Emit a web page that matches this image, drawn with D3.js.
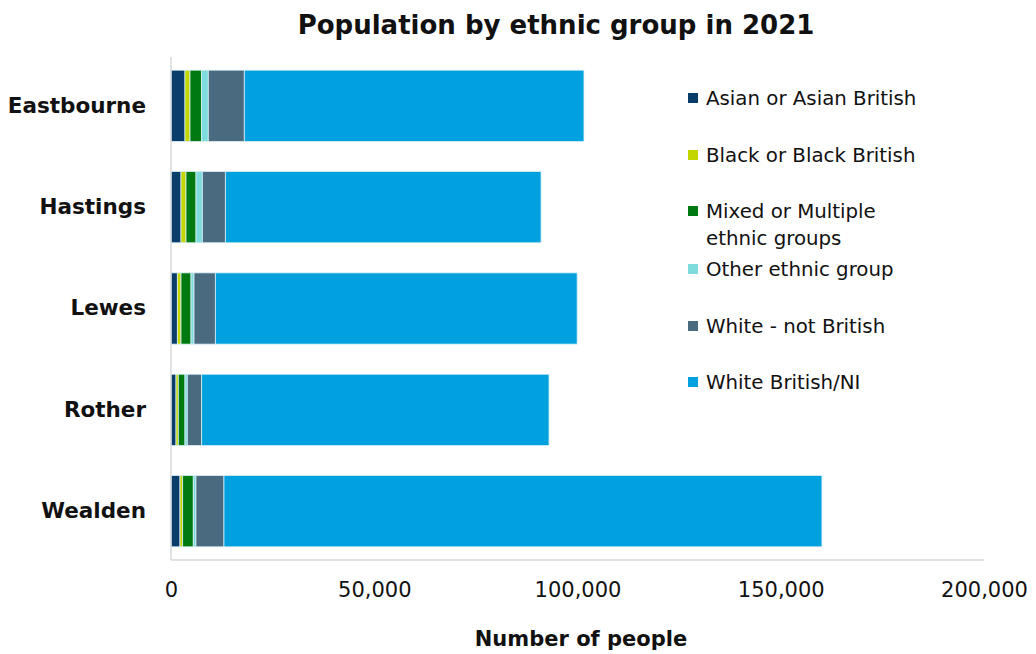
<html>
<head>
    <script src="https://cdn.jsdelivr.net/npm/d3@7"></script>
    <style>
        body {
            margin: 0;
            background: white;
            font-family: "DejaVu Sans", sans-serif;
        }
    </style>
</head>
<body>
    <svg id="EthnicChart"></svg>
<script>
    // districts and ethnic groups (2021 census)
    let districts = ["Eastbourne", "Hastings", "Lewes", "Rother", "Wealden"];
    let groups = ["Asian or Asian British", "Black or Black British", "Mixed or Multiple ethnic groups",
        "Other ethnic group", "White - not British", "White British/NI"];
    let asian = [3440, 2460, 1560, 1230, 2210];
    let black = [1230, 1230, 900, 570, 660];
    let mixed = [2870, 2460, 2460, 1640, 2610];
    let other = [1630, 1560, 740, 570, 660];
    let whiteNotBritish = [8860, 5660, 5250, 3540, 6890];
    let whiteBritish = [83560, 77660, 89000, 85440, 147100];
    let xTicks = [0, 50000, 100000, 150000, 200000];
    let colors = ["#0b3d6b", "#c4d600", "#007a10", "#7fdcdc", "#4a6a80", "#00a1de"];

    function getConfig() {
        let width = 1036;
        let height = 654;
        let margin = { top: 57, bottom: 94, left: 171, right: 52 };
        let bodyWidth = width - margin.left - margin.right;
        let bodyHeight = height - margin.top - margin.bottom;
        let container = d3.select("#EthnicChart")
            .attr("width", width)
            .attr("height", height);
        return { width, height, margin, bodyWidth, bodyHeight, container };
    }

    function getScales(config) {
        let xScale = d3.scaleLinear()
            .domain([0, 200000])
            .range([0, config.bodyWidth]);
        let yScale = d3.scaleBand()
            .domain(districts)
            .range([0, config.bodyHeight])
            .paddingInner(0.297)
            .paddingOuter(0.13);
        let colorScale = d3.scaleOrdinal().domain(groups).range(colors);
        return { xScale, yScale, colorScale };
    }

    function drawBars(config, scales) {
        let { container, margin } = config;
        let { xScale, yScale, colorScale } = scales;
        let table = districts.map((d, i) => {
            let row = { district: d };
            [asian, black, mixed, other, whiteNotBritish, whiteBritish]
                .forEach((s, j) => row[groups[j]] = s[i]);
            return row;
        });
        let stacked = d3.stack().keys(groups)(table);

        let body = container.append("g")
            .attr("transform", `translate(${margin.left},${margin.top})`);

        body.selectAll(".series")
            .data(stacked)
            .enter().append("g")
            .attr("class", "series")
            .attr("fill", d => colorScale(d.key))
            .selectAll("rect")
            .data(d => d)
            .enter().append("rect")
            .attr("x", d => xScale(d[0]))
            .attr("y", d => yScale(d.data.district))
            .attr("width", d => xScale(d[1]) - xScale(d[0]))
            .attr("height", yScale.bandwidth())
            .attr("stroke", "#d8eef6")
            .attr("stroke-width", 0.8);
    }

    function drawAxes(config, scales) {
        let { container, margin, bodyWidth, bodyHeight } = config;
        let { xScale, yScale } = scales;

        // light frame lines on left and bottom
        container.append("line")
            .attr("x1", margin.left).attr("x2", margin.left)
            .attr("y1", margin.top).attr("y2", margin.top + bodyHeight)
            .attr("stroke", "#d9d9d9").attr("stroke-width", 1.5);
        container.append("line")
            .attr("x1", margin.left).attr("x2", margin.left + bodyWidth)
            .attr("y1", margin.top + bodyHeight).attr("y2", margin.top + bodyHeight)
            .attr("stroke", "#d9d9d9").attr("stroke-width", 1.5);

        let axisX = d3.axisBottom(xScale)
            .tickValues(xTicks)
            .tickSize(0)
            .tickPadding(22)
            .tickFormat(d3.format(","));
        let gx = container.append("g")
            .attr("transform", `translate(${margin.left},${margin.top + bodyHeight})`)
            .call(axisX);
        gx.select(".domain").remove();
        gx.selectAll("text")
            .style("font-family", "'DejaVu Sans', sans-serif")
            .attr("font-size", 21)
            .attr("fill", "#111");

        let axisY = d3.axisLeft(yScale).tickSize(0).tickPadding(25);
        let gy = container.append("g")
            .attr("transform", `translate(${margin.left},${margin.top})`)
            .call(axisY);
        gy.select(".domain").remove();
        gy.selectAll("text")
            .style("font-family", "'DejaVu Sans', sans-serif")
            .attr("font-size", 21.5)
            .attr("font-weight", "bold")
            .attr("fill", "#111");

        container.append("text")
            .attr("x", 581)
            .attr("y", 646)
            .attr("text-anchor", "middle")
            .attr("font-size", 21)
            .attr("font-weight", "bold")
            .attr("fill", "#111")
            .text("Number of people");

        container.append("text")
            .attr("x", 556)
            .attr("y", 34)
            .attr("text-anchor", "middle")
            .attr("font-size", 26)
            .attr("font-weight", "bold")
            .attr("fill", "#111")
            .text("Population by ethnic group in 2021");
    }

    function drawLegend(config, scales) {
        let { container } = config;
        let { colorScale } = scales;
        let itemY = [98, 155, 211, 269, 326, 382];
        let lines = [["Asian or Asian British"], ["Black or Black British"],
            ["Mixed or Multiple", "ethnic groups"], ["Other ethnic group"],
            ["White - not British"], ["White British/NI"]];

        let legend = container.selectAll(".legend")
            .data(groups)
            .enter().append("g")
            .attr("class", "legend")
            .attr("transform", (d, i) => `translate(688,${itemY[i]})`);

        legend.append("rect")
            .attr("x", 0)
            .attr("y", -5)
            .attr("width", 10)
            .attr("height", 10)
            .attr("fill", d => colorScale(d));

        legend.append("text")
            .attr("x", 18)
            .attr("y", 0)
            .attr("font-size", 19.8)
            .attr("fill", "#111")
            .selectAll("tspan")
            .data((d, i) => lines[i])
            .enter().append("tspan")
            .attr("x", 18)
            .attr("dy", (d, i) => i == 0 ? "0.35em" : "1.36em")
            .text(d => d);
    }

    let config = getConfig();
    let scales = getScales(config);
    drawBars(config, scales);
    drawAxes(config, scales);
    drawLegend(config, scales);
</script>
</body>
</html>
